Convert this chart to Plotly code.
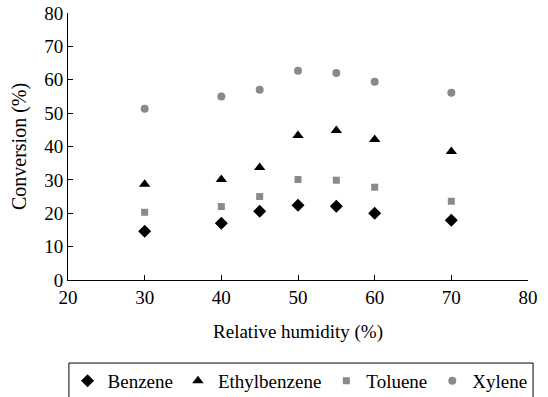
import plotly.graph_objects as go

humidity = [30, 40, 45, 50, 55, 60, 70]
benzene = [14.6, 17.0, 20.6, 22.4, 22.1, 20.0, 17.9]
ethylbenzene = [28.7, 30.1, 33.7, 43.3, 44.8, 42.1, 38.5]
toluene = [20.3, 22.0, 25.0, 30.1, 29.9, 27.8, 23.6]
xylene = [51.3, 55.0, 57.0, 62.7, 62.0, 59.4, 56.1]

FONT = "'Liberation Serif', 'Times New Roman', 'DejaVu Serif', serif"

fig = go.Figure()
series = [
    ("Benzene", benzene, "diamond", "#000000", 10),
    ("Ethylbenzene", ethylbenzene, "triangle-up", "#000000", 10),
    ("Toluene", toluene, "square", "#8a8a8a", 7),
    ("Xylene", xylene, "circle", "#8a8a8a", 8),
]
for name, vals, sym, col, sz in series:
    fig.add_trace(go.Scatter(
        x=humidity, y=vals, mode="markers", name=name,
        marker=dict(symbol=sym, color=col, size=sz, line=dict(width=0)),
    ))

# legend frame (extends past the bottom edge, as in the reference)
fig.add_shape(type="rect", xref="paper", yref="paper",
              x0=0.002, x1=1.011, y0=-0.311, y1=-0.47,
              line=dict(color="#000000", width=1), fillcolor="rgba(0,0,0,0)")

fig.update_layout(
    width=548, height=397,
    margin=dict(l=68, r=20, t=13, b=117, autoexpand=False),
    paper_bgcolor="white", plot_bgcolor="white",
    font=dict(family=FONT, color="#000000", size=19),
    showlegend=True,
    legend=dict(
        orientation="h", x=-0.001, xanchor="left", y=-0.307, yanchor="top",
        bgcolor="rgba(0,0,0,0)", borderwidth=0, font=dict(size=19, family=FONT),
        itemwidth=30,
    ),
)
fig.update_xaxes(
    range=[20, 80], tickvals=[20, 30, 40, 50, 60, 70, 80], automargin=False,
    showgrid=False, zeroline=False, showline=True, linecolor="#000000", linewidth=1,
    ticks="inside", ticklen=5, tickcolor="#000000",
    title=dict(text="Relative humidity (%)", font=dict(size=19, family=FONT), standoff=17),
    tickfont=dict(size=19, family=FONT),
)
fig.update_yaxes(
    range=[0, 80], tickvals=[0, 10, 20, 30, 40, 50, 60, 70, 80], automargin=False,
    showgrid=False, zeroline=False, showline=True, linecolor="#000000", linewidth=1,
    ticks="inside", ticklen=5, tickcolor="#000000",
    title=dict(text="Conversion (%)", font=dict(size=20, family=FONT), standoff=12),
    tickfont=dict(size=19, family=FONT),
)

fig.write_html("out.html")
